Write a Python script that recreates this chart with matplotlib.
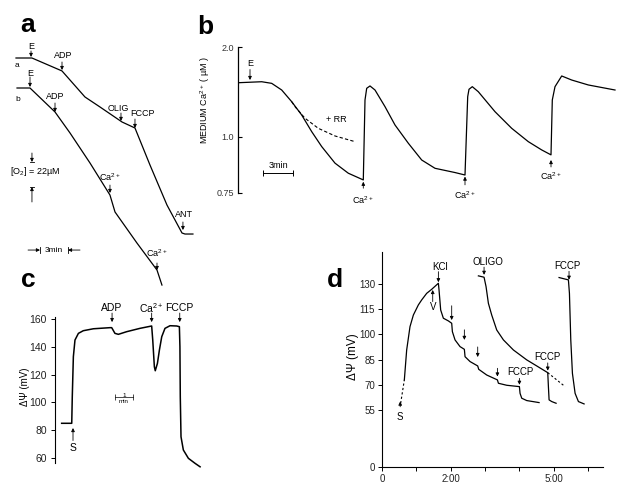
import numpy as np
import matplotlib
matplotlib.use('Agg')
import matplotlib.pyplot as plt

plt.rcParams['font.family'] = ['Liberation Sans', 'DejaVu Sans']
plt.rcParams['mathtext.default'] = 'regular'

W, H = 630, 491

# panel a: O2 traces (time in min, O2 in uM)
a_top_t = [0, 1.71, 4.93, 7.39, 9.0, 11.36, 12.75, 14.36, 16.18, 17.79, 18.11, 18.96]
a_top_o2 = [240, 240, 228.6, 205.7, 196.9, 183.7, 178.4, 145.8, 110.6, 86.0, 85.1, 85.1]
a_bot_t = [0.11, 1.5, 4.18, 5.79, 7.93, 10.07, 10.61, 12.96, 15.11, 15.64]
a_bot_o2 = [213.6, 213.6, 192.5, 174, 147.6, 119.4, 104.5, 77.2, 53.4, 40.2]

# panel b: medium Ca2+ (uM) vs time (min)
b_t = [0.03, 2.37, 3.37, 4.37, 5.37, 6.37, 7.37, 8.37, 9.7, 11.03, 12.53,
       12.7, 12.87, 13.2, 13.7, 14.7, 15.7, 17.03, 18.37, 19.7, 21.7, 22.7,
       22.97, 23.1, 23.43, 24.03, 25.7, 27.37, 29.03, 30.37, 31.3,
       31.43, 31.7, 32.37, 33.37, 35.03, 37.7]
b_ca = [1.603, 1.614, 1.596, 1.522, 1.392, 1.244, 1.059, 0.957, 0.883, 0.838, 0.808,
        1.411, 1.541, 1.567, 1.522, 1.337, 1.133, 0.972, 0.897, 0.860, 0.841, 0.830,
        1.448, 1.53, 1.559, 1.503, 1.281, 1.096, 0.979, 0.942, 0.920,
        1.411, 1.559, 1.678, 1.633, 1.578, 1.522]
rr_t = [5.37, 5.7, 6.7, 8.03, 9.7, 11.7]
rr_ca = [1.392, 1.337, 1.208, 1.096, 1.011, 0.979]

# panel c: membrane potential (mV)
c_t = [0.37, 0.93, 0.96, 1.02, 1.11, 1.30, 1.57, 2.13, 3.06, 3.15, 3.33, 3.52, 3.98,
       4.72, 5.37, 5.43, 5.52, 5.57, 5.69, 5.80, 5.93, 6.11, 6.39, 6.76, 6.91,
       6.94, 6.96, 7.0, 7.13, 7.41, 7.78, 8.06]
c_mv = [85.0, 85.0, 104.1, 132.9, 144.9, 149.7, 151.6, 153.0, 153.8, 153.8, 149.7, 149.0, 150.9,
        153.3, 155.0, 144.9, 125.7, 122.8, 128.1, 137.7, 147.3, 153.3, 155.2, 155.0, 154.5,
        140.1, 104.1, 75.3, 65.8, 59.8, 56.2, 53.7]

# panel d: membrane potential (mV) vs time (min)
d_s_t = [0.544, 0.651]
d_s_mv = [59.0, 72.9]
d_main_t = [0.651, 0.719, 0.816, 0.914, 1.059, 1.157, 1.302, 1.448, 1.643, 1.662, 1.710,
            1.788, 1.934, 2.031, 2.051, 2.128, 2.274, 2.400, 2.420, 2.566, 2.789, 2.818,
            3.052, 3.363, 3.392, 3.635, 4.004, 4.023, 4.072, 4.218, 4.577]
d_main_mv = [72.9, 90.7, 104.6, 111.5, 117.5, 120.5, 124.4, 126.8, 130.4, 126.4, 114.5,
             109.6, 108.0, 106.6, 101.6, 96.7, 92.7, 91.1, 86.7, 83.8, 81.2, 79.2,
             75.8, 72.9, 70.9, 69.7, 68.9, 64.9, 62.0, 60.6, 59.4]
d_olig_t = [2.809, 2.974, 3.032, 3.100, 3.197, 3.343, 3.538, 3.829, 4.218, 4.509, 4.830,
            4.849, 4.869, 4.947, 5.073]
d_olig_mv = [134.8, 134.0, 128.4, 118.5, 111.5, 102.6, 96.7, 90.7, 84.8, 81.2, 77.2,
             68.9, 61.0, 60.0, 59.0]
d_olig_dash_t = [4.830, 5.335]
d_olig_dash_mv = [77.2, 68.9]
d_fccp_t = [5.160, 5.432, 5.462, 5.501, 5.549, 5.627, 5.724, 5.889]
d_fccp_mv = [133.8, 132.4, 124.4, 96.7, 76.8, 64.9, 60.0, 58.6]

d_xticks = [0, 1, 2, 3, 4, 5, 6]
d_xlabels = ['0', '', '2:00', '', '', '5:00', '']
d_yticks = [0, 55, 70, 85, 100, 115, 130]


def box(l, t, r, b):
    return [l / W, 1 - b / H, (r - l) / W, (b - t) / H]


def ftext(px, py, s, **kw):
    fig.text(px / W, 1 - py / H, s, **kw)


def arrow(ax, x, y0, y1, lw=0.6):
    ax.annotate('', xy=(x, y1), xytext=(x, y0), annotation_clip=False,
                arrowprops=dict(arrowstyle='-|>', color='k', lw=lw,
                                mutation_scale=5, shrinkA=0, shrinkB=0))


def mark(ax, s, x, yt, y0, y1, xt=None, fs=6.5):
    arrow(ax, x, y0, y1)
    ax.text(x if xt is None else xt, yt, s, ha='center', va='center', fontsize=fs)


fig = plt.figure(figsize=(6.3, 4.91), dpi=100)

# ---------------- panel a
ax_a = fig.add_axes(box(16, 40, 196, 290))
ax_a.set_xlim(0, 19.29)
ax_a.set_ylim(35.84, 255.84)
ax_a.axis('off')
ax_a.plot(a_top_t, a_top_o2, color='k', lw=0.9, clip_on=False)
ax_a.plot(a_bot_t, a_bot_o2, color='k', lw=0.9, clip_on=False)
ax_a.text(0.11, 233.8, 'a', fontsize=6, ha='center', va='center')
ax_a.text(0.21, 203.9, 'b', fontsize=6, ha='center', va='center')
mark(ax_a, 'E', 1.61, 249.7, 246.2, 240.9)
mark(ax_a, 'ADP', 4.93, 242.6, 236.5, 229.4, xt=5.04)
mark(ax_a, 'E', 1.5, 226.8, 223.3, 214.5)
mark(ax_a, 'ADP', 4.18, 205.7, 200.4, 192.5)
mark(ax_a, 'OLIG', 11.25, 196, 191.6, 184.6, xt=10.93)
mark(ax_a, 'FCCP', 12.75, 191.6, 186.3, 178.4, xt=13.61)
mark(ax_a, 'Ca$^{2+}$', 10.07, 135.3, 128.2, 121.2)
mark(ax_a, 'ANT', 17.89, 102.7, 95.7, 88.6, xt=18.0)
mark(ax_a, 'Ca$^{2+}$', 15.11, 68.4, 59.6, 53.4)
# O2 scale
arrow(ax_a, 1.71, 156.4, 148.5)
arrow(ax_a, 1.71, 113.3, 126.5)
ax_a.plot([1.5, 1.92], [148.5, 148.5], color='k', lw=0.6)
ax_a.plot([1.5, 1.92], [126.5, 126.5], color='k', lw=0.6)
ax_a.text(-0.64, 139.7, '[O$_2$] = 22µM', fontsize=6.5, ha='left', va='center')
# 3 min scale
arrow(ax_a, 1.29, 71, 71) if False else None
ax_a.annotate('', xy=(2.57, 71), xytext=(1.29, 71), annotation_clip=False,
              arrowprops=dict(arrowstyle='-|>', color='k', lw=0.6, mutation_scale=5, shrinkA=0, shrinkB=0))
ax_a.annotate('', xy=(5.57, 71), xytext=(6.86, 71), annotation_clip=False,
              arrowprops=dict(arrowstyle='-|>', color='k', lw=0.6, mutation_scale=5, shrinkA=0, shrinkB=0))
ax_a.plot([2.57, 2.57], [68.5, 73.5], color='k', lw=0.6)
ax_a.plot([5.57, 5.57], [68.5, 73.5], color='k', lw=0.6)
ax_a.text(4.07, 71, '3min', fontsize=6, ha='center', va='center')

# ---------------- panel b
def fwd_b(v):
    v = np.asarray(v, dtype=float)
    return np.where(v < 1, (v - 0.75) * 224, 56 + (v - 1) * 90)


def inv_b(u):
    u = np.asarray(u, dtype=float)
    return np.where(u < 56, 0.75 + u / 224, 1 + (u - 56) / 90)


ax_b = fig.add_axes(box(238, 40, 620, 205))
ax_b.set_yscale('function', functions=(fwd_b, inv_b))
ax_b.set_xlim(0, 38.2)
ax_b.set_ylim(0.696, 2.078)
for s in ['top', 'right', 'bottom']:
    ax_b.spines[s].set_visible(False)
ax_b.spines['left'].set_bounds(0.75, 2.0)
ax_b.spines['left'].set_linewidth(0.9)
ax_b.set_xticks([])
ax_b.set_yticks([0.75, 1.0, 2.0])
ax_b.set_yticklabels(['0.75', '1.0', '2.0'])
ax_b.yaxis.set_minor_locator(plt.NullLocator())
ax_b.tick_params(axis='y', direction='in', length=3, width=0.8, pad=3, labelsize=6.5, labelcolor='#333333')
ax_b.plot(b_t, b_ca, color='k', lw=0.9)
ax_b.plot(rr_t, rr_ca, color='k', lw=0.8, ls=(0, (3, 2)))
ax_b.text(9.87, 1.189, '+ RR', fontsize=6.5, ha='center', va='center')
mark(ax_b, 'E', 1.2, 1.819, 1.75, 1.633)
mark(ax_b, 'Ca$^{2+}$', 12.53, 0.719, 0.771, 0.80)
mark(ax_b, 'Ca$^{2+}$', 22.7, 0.741, 0.786, 0.823)
mark(ax_b, 'Ca$^{2+}$', 31.3, 0.823, 0.866, 0.897)
ax_b.plot([2.53, 5.53], [0.838, 0.838], color='k', lw=0.7, marker='|', ms=4, mew=0.7)
ax_b.text(4.03, 0.872, '3min', fontsize=6.5, ha='center', va='center')
ftext(205, 100, 'MEDIUM Ca$^{2+}$ ( µM )', rotation=90, ha='center', va='center', fontsize=6.5)

# ---------------- panel c
ax_c = fig.add_axes(box(55, 300, 205, 470))
ax_c.set_xlim(0, 8.333)
ax_c.set_ylim(51.4, 173.7)
for s in ['top', 'right', 'bottom']:
    ax_c.spines[s].set_visible(False)
ax_c.spines['left'].set_bounds(56.4, 161.7)
ax_c.spines['left'].set_linewidth(0.8)
ax_c.set_xticks([])
ax_c.set_yticks([60, 80, 100, 120, 140, 160])
ax_c.tick_params(axis='y', direction='out', length=3, width=0.7, pad=3, labelsize=7.5, labelcolor='#222222')
ax_c.plot(c_t, c_mv, color='k', lw=1.1)
mark(ax_c, 'ADP', 3.17, 167.9, 164.3, 157.8, fs=7.5)
mark(ax_c, 'Ca$^{2+}$', 5.37, 167.9, 164.3, 157.8, fs=7.5)
mark(ax_c, 'FCCP', 6.93, 167.9, 164.3, 157.8, fs=7.5)
mark(ax_c, 'S', 1.0, 67.2, 72.6, 81.6, fs=7.5)
ax_c.plot([3.33, 4.33], [103.9, 103.9], color='k', lw=0.5, marker='|', ms=4, mew=0.5)
ax_c.text(3.83, 105.0, '1', fontsize=4.5, ha='center', va='center')
ax_c.text(3.83, 100.6, 'min', fontsize=4.5, ha='center', va='center')
ftext(25, 387, 'ΔΨ (mV)', rotation=90, ha='center', va='center', fontsize=7)

# ---------------- panel d
def fwd_d(v):
    v = np.asarray(v, dtype=float)
    return np.where(v < 55, v * 57 / 55, 57 + (v - 55) * 1.68)


def inv_d(u):
    u = np.asarray(u, dtype=float)
    return np.where(u < 57, u * 55 / 57, 55 + (u - 57) / 1.68)


ax_d = fig.add_axes(box(382, 252, 603, 467))
ax_d.set_yscale('function', functions=(fwd_d, inv_d))
ax_d.set_xlim(0, 6.44)
ax_d.set_ylim(0, 149)
for s in ['top', 'right']:
    ax_d.spines[s].set_visible(False)
for s in ['left', 'bottom']:
    ax_d.spines[s].set_linewidth(0.8)
ax_d.set_yticks(d_yticks)
ax_d.set_yticklabels([str(v) for v in d_yticks])
ax_d.yaxis.set_minor_locator(plt.NullLocator())
ax_d.set_xticks(d_xticks)
ax_d.set_xticklabels(d_xlabels)
ax_d.tick_params(direction='out', length=3, width=0.7, pad=2, labelsize=7, labelcolor='#222222')
ax_d.plot(d_s_t, d_s_mv, color='k', lw=0.8, ls=(0, (2, 2)))
ax_d.plot(d_main_t, d_main_mv, color='k', lw=0.9)
ax_d.plot(d_olig_t, d_olig_mv, color='k', lw=0.9)
ax_d.plot(d_olig_dash_t, d_olig_dash_mv, color='k', lw=0.8, ls=(0, (2, 2)))
ax_d.plot(d_fccp_t, d_fccp_mv, color='k', lw=0.9)
mark(ax_d, 'S', 0.53, 48.5, 56.9, 60.0, fs=7)
mark(ax_d, 'V', 1.478, 116.5, 119.5, 126.4, fs=7)
mark(ax_d, 'KCl', 1.643, 139.9, 137.3, 131.0, xt=1.69, fs=7)
arrow(ax_d, 2.031, 117.0, 108.5)
arrow(ax_d, 2.400, 102.7, 96.7)
arrow(ax_d, 2.789, 92.5, 86.5)
arrow(ax_d, 3.363, 79.8, 74.9)
mark(ax_d, 'FCCP', 4.004, 77.4, 73.8, 70.0, xt=4.02, fs=7)
mark(ax_d, 'OLIGO', 2.974, 143.3, 140.0, 135.4, xt=3.10, fs=7)
mark(ax_d, 'FCCP', 4.83, 86.4, 83.0, 78.4, fs=7)
mark(ax_d, 'FCCP', 5.45, 140.7, 137.5, 132.5, xt=5.41, fs=7)
ftext(353, 357, 'ΔΨ (mV)', rotation=90, ha='center', va='center', fontsize=8.5)

# panel letters
for lab, px, py in [('a', 28, 25), ('b', 205, 27), ('c', 28, 280), ('d', 335, 280)]:
    ftext(px, py, lab, fontsize=19, fontweight='bold', ha='center', va='center')

fig.savefig('out.png', dpi=100, facecolor='white')
